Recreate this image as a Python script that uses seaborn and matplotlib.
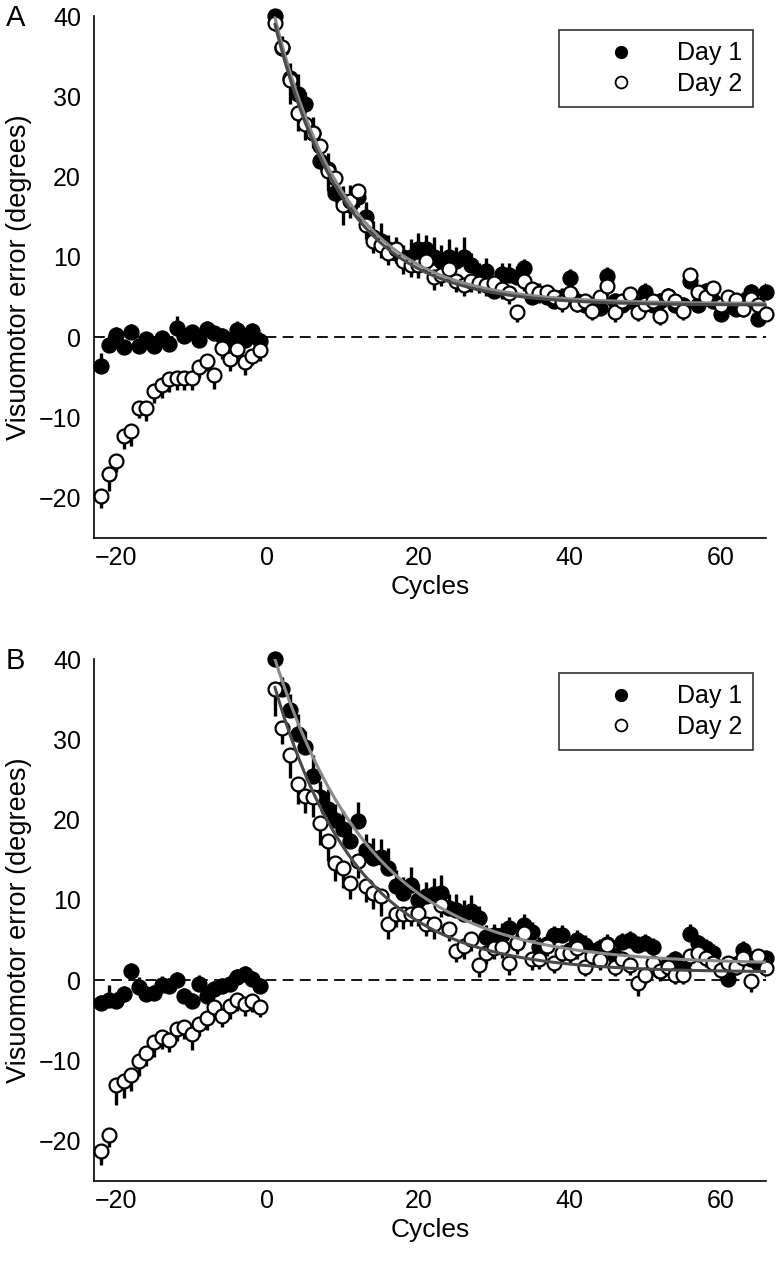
import numpy as np
import pandas as pd
import seaborn as sns
import matplotlib
matplotlib.use('agg')
import matplotlib.pyplot as plt
from matplotlib.lines import Line2D

sns.set_style('white')
plt.rcParams['font.family'] = ['Liberation Sans', 'DejaVu Sans']
plt.rcParams['text.color'] = 'black'
plt.rcParams['axes.labelcolor'] = 'black'
plt.rcParams['xtick.color'] = 'black'
plt.rcParams['ytick.color'] = 'black'

pre_cycles = list(range(-22, 0))
post_cycles = list(range(1, 67))

# ---- panel A ----
a_pre_day1 = [-3.6, -0.9, 0.3, -1.2, 0.7, -1.1, -0.2, -1.1, -0.1, -0.8, 1.2, 0.2,
              0.6, -0.3, 1.0, 0.5, 0.2, -0.3, 0.9, -0.3, 0.8, -0.4]
a_pre_day1_err = [1.7, 1.2, 1.0, 0.9, 1.0, 0.9, 0.9, 1.0, 0.9, 0.9, 1.4, 1.0,
                  0.9, 0.9, 1.0, 0.9, 1.0, 1.0, 1.1, 1.0, 1.0, 1.1]
a_pre_day2 = [-19.8, -17.0, -15.4, -12.3, -11.7, -8.8, -8.8, -6.7, -6.0, -5.2, -5.1, -5.1,
              -5.1, -3.7, -2.9, -4.7, -1.3, -2.7, -1.4, -3.1, -2.3, -1.6]
a_pre_day2_err = [1.5, 2.1, 1.4, 1.6, 1.8, 1.3, 1.6, 1.5, 1.5, 1.6, 1.5, 1.5,
                  1.5, 1.4, 1.3, 1.8, 1.4, 1.5, 1.3, 1.6, 1.2, 1.3]
a_post_day1 = [40.0, 36.0, 32.3, 30.3, 29.1, 25.4, 22.0, 21.0, 18.0, 17.0, 16.5, 17.5,
               15.0, 12.5, 12.0, 11.0, 10.5, 10.0, 10.0, 11.0, 11.0, 10.0, 9.5, 10.0,
               9.5, 10.0, 9.0, 7.5, 8.3, 5.8, 7.9, 7.7, 7.5, 8.6, 5.0, 5.5,
               5.0, 4.5, 5.0, 7.4, 4.5, 4.0, 4.0, 3.7, 7.6, 4.5, 4.0, 4.5,
               4.0, 5.7, 4.0, 4.5, 5.2, 4.0, 4.0, 7.0, 4.0, 5.8, 4.5, 2.9,
               4.0, 3.5, 4.5, 5.6, 2.3, 5.6]
a_post_day1_err = [1.0, 1.5, 1.8, 2.5, 1.5, 2.0, 1.8, 2.0, 2.2, 1.8, 2.5, 1.5,
                   1.8, 2.0, 2.2, 1.8, 2.0, 1.5, 2.2, 2.0, 1.8, 2.5, 2.0, 2.2,
                   1.8, 2.5, 1.5, 1.8, 1.6, 1.5, 1.4, 1.5, 1.4, 1.2, 1.3, 1.2,
                   1.1, 1.2, 1.1, 1.1, 1.3, 1.1, 1.0, 1.1, 1.2, 1.0, 1.1, 1.0,
                   1.2, 1.0, 1.1, 1.0, 1.0, 1.1, 1.0, 1.2, 1.1, 1.0, 1.2, 1.0,
                   1.1, 1.0, 1.1, 1.0, 1.0, 1.1]
a_post_day2 = [39.1, 36.2, 32.1, 27.9, 26.6, 25.4, 23.8, 20.7, 19.8, 16.5, 17.0, 18.2,
               14.0, 12.0, 11.5, 10.5, 11.0, 9.5, 9.0, 9.0, 9.5, 7.5, 7.8, 8.5,
               7.0, 6.5, 7.0, 6.8, 6.5, 6.8, 6.0, 5.5, 3.1, 7.0, 6.0, 5.5,
               5.6, 5.0, 4.4, 5.5, 4.2, 4.5, 3.3, 5.0, 6.4, 3.1, 4.5, 5.4,
               3.1, 4.2, 4.5, 2.7, 5.2, 4.5, 3.3, 7.7, 5.6, 5.0, 6.2, 4.0,
               5.0, 4.6, 3.5, 4.8, 4.0, 2.9]
a_post_day2_err = [1.0, 1.2, 3.0, 2.2, 2.0, 1.8, 2.0, 2.5, 1.8, 2.5, 2.2, 2.0,
                   1.8, 1.5, 1.6, 1.5, 1.8, 1.6, 1.5, 1.6, 1.5, 1.6, 1.4, 1.5,
                   1.4, 1.3, 1.4, 1.3, 1.4, 1.3, 1.2, 1.3, 1.2, 1.2, 1.3, 1.2,
                   1.2, 1.1, 1.3, 1.2, 1.1, 1.2, 1.1, 1.2, 1.3, 1.2, 1.1, 1.2,
                   1.1, 1.2, 1.1, 1.2, 1.1, 1.2, 1.1, 1.3, 1.2, 1.1, 1.2, 1.1,
                   1.2, 1.1, 1.0, 1.1, 1.0, 1.1]
# exponential fits: [start value, time constant, asymptote]
a_fit_day1 = [39.8, 9.5, 4.2]
a_fit_day2 = [39.0, 9.3, 4.0]

# ---- panel B ----
b_pre_day1 = [-2.8, -2.4, -2.6, -1.7, 1.1, -0.8, -1.7, -1.6, -0.6, -0.7, 0.0, -2.0,
              -2.6, -0.5, -1.9, -1.1, -0.7, -0.4, 0.45, 0.8, 0.1, -0.7]
b_pre_day1_err = [1.0, 1.8, 1.1, 1.0, 1.0, 1.2, 1.0, 1.0, 1.1, 1.0, 1.0, 1.0,
                  1.0, 1.1, 1.0, 1.0, 1.0, 1.1, 1.0, 1.0, 1.0, 1.0]
b_pre_day2 = [-21.2, -19.3, -13.0, -12.6, -11.8, -10.1, -9.1, -7.7, -7.0, -7.4, -6.1, -5.8,
              -6.7, -5.5, -4.7, -3.3, -4.4, -3.2, -2.4, -3.0, -2.6, -3.3]
b_pre_day2_err = [1.8, 1.5, 2.5, 2.0, 2.0, 1.8, 1.6, 1.8, 1.5, 1.5, 1.5, 1.5,
                  2.0, 1.4, 1.5, 1.5, 1.4, 1.6, 1.4, 1.5, 1.3, 1.3]
b_post_day1 = [40.0, 36.3, 33.7, 30.7, 29.0, 25.5, 22.8, 21.3, 19.9, 18.9, 17.4, 19.8,
               16.2, 15.2, 15.4, 14.0, 11.7, 10.9, 11.9, 10.0, 10.5, 10.7, 10.9, 9.0,
               8.8, 8.2, 8.6, 7.7, 5.4, 5.6, 5.6, 6.5, 4.7, 6.9, 6.0, 4.2,
               4.5, 5.6, 5.6, 3.8, 5.0, 4.4, 3.6, 4.0, 4.5, 3.0, 4.8, 5.0,
               4.4, 4.6, 4.2, 1.1, 2.0, 2.6, 1.3, 5.8, 4.6, 4.0, 3.4, 1.5,
               0.1, 2.0, 3.8, 2.6, 2.2, 2.8]
b_post_day1_err = [1.0, 1.5, 2.0, 2.5, 2.0, 2.5, 2.0, 2.5, 2.0, 2.2, 2.0, 2.4,
                   2.0, 2.5, 2.2, 2.5, 2.0, 2.0, 2.2, 2.0, 1.8, 2.0, 2.2, 1.8,
                   2.0, 1.8, 2.0, 1.5, 1.5, 1.4, 1.5, 1.4, 1.3, 1.4, 1.3, 1.2,
                   1.3, 1.2, 1.3, 1.2, 1.3, 1.2, 1.1, 1.2, 1.3, 1.2, 1.1, 1.2,
                   1.1, 1.2, 1.1, 1.0, 1.1, 1.0, 1.1, 1.2, 1.1, 1.2, 1.1, 1.0,
                   1.1, 1.0, 1.1, 1.0, 1.1, 1.0]
b_post_day2 = [36.3, 31.4, 28.1, 24.4, 23.0, 22.8, 19.6, 17.4, 14.6, 14.0, 12.1, 14.9,
               11.7, 10.9, 10.5, 7.0, 8.2, 8.2, 8.2, 8.4, 7.0, 7.0, 9.4, 6.4,
               3.7, 4.3, 5.1, 1.9, 3.4, 4.0, 4.2, 2.1, 4.6, 5.9, 2.6, 2.6,
               4.3, 2.1, 3.4, 3.4, 4.0, 1.7, 3.0, 2.5, 4.4, 1.7, 2.6, 1.9,
               -0.3, 0.7, 2.1, 1.1, 1.7, 0.7, 0.7, 3.0, 3.4, 2.8, 2.2, 1.3,
               2.1, 1.7, 2.8, -0.1, 3.0, 1.5]
b_post_day2_err = [3.4, 2.0, 2.9, 2.5, 2.2, 2.5, 2.8, 2.5, 2.2, 2.5, 2.0, 2.2,
                   2.0, 2.0, 2.5, 1.8, 1.6, 1.8, 1.5, 1.6, 1.5, 1.8, 1.5, 1.5,
                   1.4, 1.6, 1.4, 1.5, 1.4, 1.3, 1.4, 1.5, 1.3, 1.4, 1.3, 1.2,
                   1.3, 1.2, 1.3, 1.2, 1.3, 1.2, 1.1, 1.2, 1.3, 1.2, 1.1, 1.2,
                   1.6, 1.2, 1.1, 1.2, 1.1, 1.2, 1.1, 1.2, 1.1, 1.2, 1.1, 1.2,
                   1.1, 1.0, 1.1, 1.3, 1.0, 1.1]
b_fit_day1 = [40.0, 13.0, 2.0]
b_fit_day2 = [36.5, 11.0, 1.0]

x_ticks = [-20, 0, 20, 40, 60]
y_ticks = [-20, -10, 0, 10, 20, 30, 40]


def fit_curve(params, t):
    start, tau, asym = params
    return asym + (start - asym) * np.exp(-(t - post_cycles[0]) / tau)


def draw_panel(ax, pre1, pre1_err, pre2, pre2_err, post1, post1_err,
               post2, post2_err, fit1, fit2):
    x = np.array(pre_cycles + post_cycles)
    d1 = pd.DataFrame({'cycle': x, 'err': pre1 + post1, 'sem': pre1_err + post1_err})
    d2 = pd.DataFrame({'cycle': x, 'err': pre2 + post2, 'sem': pre2_err + post2_err})

    ax.axhline(0, color='black', lw=1.3, dashes=(6, 3.5), zorder=1)

    # day 1: bars up, day 2: bars down
    ax.vlines(d1['cycle'], d1['err'], d1['err'] + d1['sem'], color='black', lw=2.4, zorder=2)
    sns.scatterplot(data=d1, x='cycle', y='err', ax=ax, color='black', edgecolor='black',
                    s=115, linewidth=1, zorder=3, legend=False, clip_on=False)
    ax.vlines(d2['cycle'], d2['err'] - d2['sem'], d2['err'], color='black', lw=2.4, zorder=4)
    sns.scatterplot(data=d2, x='cycle', y='err', ax=ax, color='white', edgecolor='black',
                    s=100, linewidth=1.6, zorder=5, legend=False, clip_on=False)

    t = np.linspace(post_cycles[0], post_cycles[-1], 300)
    sns.lineplot(x=t, y=fit_curve(fit1, t), ax=ax, color='#8a8a8a', lw=2.2, zorder=6)
    sns.lineplot(x=t, y=fit_curve(fit2, t), ax=ax, color='#4a4a4a', lw=2.2, zorder=6)

    ax.set_xlim(-23, 66)
    ax.set_ylim(-25, 40)
    ax.set_xticks(x_ticks)
    ax.set_yticks(y_ticks)
    ax.set_xlabel('Cycles', fontsize=19, labelpad=3)
    ax.set_ylabel('Visuomotor error (degrees)', fontsize=19.5, labelpad=5)
    ax.tick_params(direction='in', length=5, width=1, labelsize=18, colors='black')
    ax.tick_params(axis='y', pad=9)
    ax.tick_params(axis='x', pad=6)
    for side in ['top', 'right']:
        ax.spines[side].set_visible(False)
    for side in ['left', 'bottom']:
        ax.spines[side].set_color('black')
        ax.spines[side].set_linewidth(1.2)

    handles = [Line2D([], [], marker='o', ls='none', color='black', markersize=8.5),
               Line2D([], [], marker='o', ls='none', markerfacecolor='white',
                      markeredgecolor='black', markeredgewidth=1.3, markersize=8.5)]
    leg = ax.legend(handles, ['Day 1', 'Day 2'], loc='upper right',
                    bbox_to_anchor=(0.981, 0.973), borderaxespad=0, fontsize=18,
                    frameon=True, fancybox=False, edgecolor='black', handlelength=4.0,
                    handletextpad=0.25, borderpad=0.45, labelspacing=0.25)
    leg.get_frame().set_linewidth(1.2)
    leg.set_zorder(10)
    for txt in leg.get_texts():
        txt.set_color('black')


fig = plt.figure(figsize=(7.8, 12.66), dpi=100)
ax_a = fig.add_axes([0.1199, 0.575, 0.8622, 0.4123])
ax_b = fig.add_axes([0.1199, 0.0671, 0.8622, 0.4123])

draw_panel(ax_a, a_pre_day1, a_pre_day1_err, a_pre_day2, a_pre_day2_err,
           a_post_day1, a_post_day1_err, a_post_day2, a_post_day2_err,
           a_fit_day1, a_fit_day2)
draw_panel(ax_b, b_pre_day1, b_pre_day1_err, b_pre_day2, b_pre_day2_err,
           b_post_day1, b_post_day1_err, b_post_day2, b_post_day2_err,
           b_fit_day1, b_fit_day2)

fig.text(6 / 780, 1 - 18 / 1266, 'A', fontsize=21, ha='left', va='center')
fig.text(6 / 780, 1 - 661 / 1266, 'B', fontsize=21, ha='left', va='center')

fig.savefig('out.png', dpi=100)
